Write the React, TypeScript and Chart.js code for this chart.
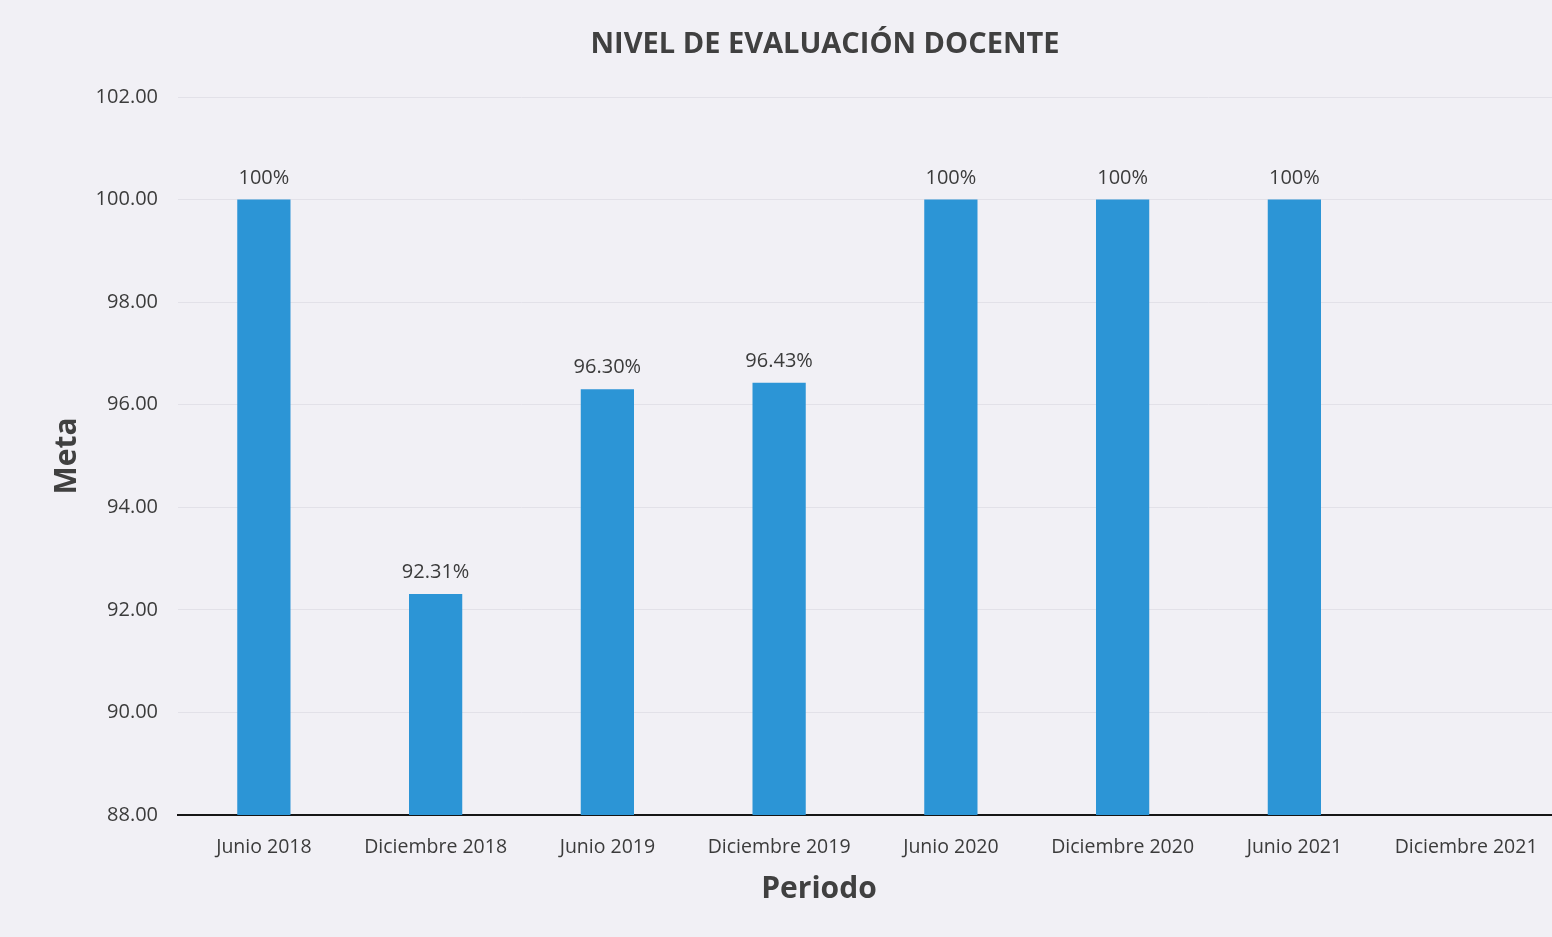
import React, { useEffect, useRef } from "react";
import { Chart, registerables } from "chart.js";

Chart.register(...registerables);

const categories = [
  "Junio 2018",
  "Diciembre 2018",
  "Junio 2019",
  "Diciembre 2019",
  "Junio 2020",
  "Diciembre 2020",
  "Junio 2021",
  "Diciembre 2021",
];
const values = [100, 92.31, 96.3, 96.43, 100, 100, 100, null];
const valueLabels = ["100%", "92.31%", "96.30%", "96.43%", "100%", "100%", "100%", ""];
const yMin = 88;
const yMax = 102;
const yStep = 2;

const chartTitle = "NIVEL DE EVALUACIÓN DOCENTE";
const xTitle = "Periodo";
const yTitle = "Meta";

const FONT = "'Open Sans', 'DejaVu Sans', sans-serif";
const TEXT = "#3b3b3b";
const BAR = "#2c95d6";
const BG = "#f1f0f5";

export default function App() {
  const ref = useRef<HTMLCanvasElement | null>(null);

  useEffect(() => {
    document.body.style.margin = "0";
    document.body.style.background = BG;
    const canvas = ref.current;
    if (!canvas) return;

    const bgPlugin = {
      id: "bg",
      beforeDraw(chart: any) {
        const ctx = chart.ctx;
        ctx.save();
        ctx.fillStyle = BG;
        ctx.fillRect(0, 0, chart.width, chart.height);
        ctx.restore();
      },
    };

    const textPlugin = {
      id: "texts",
      afterDraw(chart: any) {
        const ctx = chart.ctx;
        ctx.save();
        ctx.fillStyle = "#404040";
        ctx.textAlign = "center";
        ctx.textBaseline = "middle";
        ctx.font = `bold 29px ${FONT}`;
        ctx.fillText(chartTitle, 825, 45);
        ctx.font = `bold 30px ${FONT}`;
        ctx.fillText(xTitle, 819, 889);
        ctx.restore();
      },
    };

    const labelPlugin = {
      id: "valueLabels",
      afterDatasetsDraw(chart: any) {
        const ctx = chart.ctx;
        const meta = chart.getDatasetMeta(0);
        ctx.save();
        ctx.fillStyle = TEXT;
        ctx.font = `20px ${FONT}`;
        ctx.textAlign = "center";
        ctx.textBaseline = "alphabetic";
        meta.data.forEach((el: any, i: number) => {
          if (values[i] == null) return;
          ctx.fillText(valueLabels[i], el.x, el.y - 16);
        });
        ctx.restore();
      },
    };

    const chart = new Chart(canvas, {
      type: "bar",
      data: {
        labels: categories,
        datasets: [
          {
            data: values as any,
            backgroundColor: BAR,
            borderWidth: 0,
            barPercentage: 0.31,
            categoryPercentage: 1,
          },
        ],
      },
      options: {
        responsive: false,
        animation: false,
        layout: { padding: { top: 97, left: 0, right: 0, bottom: 0 } },
        plugins: {
          legend: { display: false },
          tooltip: { enabled: false },
          title: { display: false },
        },
        scales: {
          x: {
            grid: { display: false },
            border: { display: true, color: "#161616", width: 2 },
            ticks: {
              color: TEXT,
              font: { family: FONT, size: 19.5 },
              padding: 13,
              maxRotation: 0,
              autoSkip: false,
            },
            afterFit(scale: any) {
              scale.height = 122;
            },
          },
          y: {
            min: yMin,
            max: yMax,
            grid: { color: "#e2e1e8", lineWidth: 1, drawTicks: false },
            border: { display: false },
            ticks: {
              stepSize: yStep,
              color: TEXT,
              font: { family: FONT, size: 20 },
              padding: 20,
              callback: (v: any) => Number(v).toFixed(2),
            },
            title: {
              display: true,
              text: yTitle,
              color: "#404040",
              font: { family: FONT, size: 30, weight: "bold" },
              padding: { top: 49, bottom: 0 },
            },
            afterFit(scale: any) {
              scale.width = 178;
            },
          },
        },
      },
      plugins: [bgPlugin, labelPlugin, textPlugin],
    });

    return () => chart.destroy();
  }, []);

  return (
    <div style={{ position: "fixed", left: 0, top: 0, width: 1552, height: 937, background: BG }}>
      <canvas ref={ref} width={1552} height={937} style={{ display: "block" }} />
    </div>
  );
}
